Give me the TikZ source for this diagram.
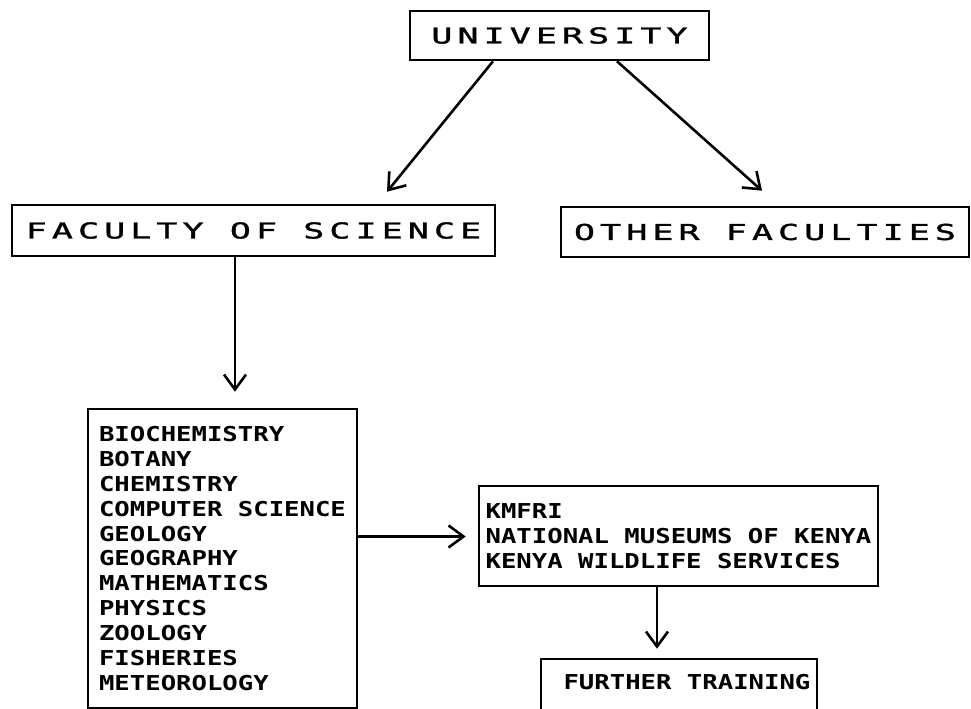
\documentclass[tikz,border=0pt]{standalone}
\usepackage{fontspec}
\usetikzlibrary{arrows.meta}
\newfontfamily\listfont{DejaVu Sans Mono}[FakeStretch=1.25]
\newfontfamily\titlefont{DejaVu Sans Mono}[FakeStretch=1.6,LetterSpace=23,FakeBold=1.5]
\newlength\pxu
\setlength\pxu{0.03cm}
\begin{document}
\begin{tikzpicture}[x=1\pxu,y=-1\pxu,
    box/.style={draw,line width=2.2pt,inner sep=0pt,align=left},
    title/.style={font=\titlefont\fontsize{18.7}{22}\selectfont},
    list/.style={font=\listfont\bfseries\fontsize{17.5}{21.3}\selectfont},
    arr/.style={line width=2.2pt,-{Straight Barb[length=4.5mm,width=6.6mm,line width=2.2pt]}}]
    \useasboundingbox (0,0) rectangle (971,709);
    % boxes
    \node[box,title,minimum width=299\pxu,minimum height=49\pxu] (uni) at (559.5,35.5) {UNIVERSITY};
    \node[box,title,minimum width=483\pxu,minimum height=51\pxu] (fac) at (253.5,230.5) {FACULTY OF SCIENCE};
    \node[box,title,minimum width=408\pxu,minimum height=50\pxu] (other) at (765,232) {OTHER FACULTIES};
    \node[box,list,minimum width=269\pxu,minimum height=299\pxu] (subj) at (222.5,558.5) {BIOCHEMISTRY\\BOTANY\\CHEMISTRY\\COMPUTER SCIENCE\\GEOLOGY\\GEOGRAPHY\\MATHEMATICS\\PHYSICS\\ZOOLOGY\\FISHERIES\\METEOROLOGY};
    \node[box,list,minimum width=399\pxu,minimum height=100\pxu] (inst) at (678.5,536) {KMFRI\\NATIONAL MUSEUMS OF KENYA\\KENYA WILDLIFE SERVICES};
    \node[box,minimum width=276\pxu,minimum height=53\pxu] (train) at (679,685.5) {};
    \node[list] (train_text) at (687,682) {FURTHER TRAINING};

    \draw[arr] ([xshift=-66.5\pxu]uni.south) -- ([xshift=133.5\pxu,yshift=12\pxu]fac.north);
    \draw[arr] ([xshift=57.5\pxu]uni.south) -- ([xshift=-3\pxu,yshift=15\pxu]other.north);
    \draw[arr] ([xshift=-18.5\pxu]fac.south) -- ([xshift=12.5\pxu,yshift=16\pxu]subj.north);
    \draw[arr] ([yshift=22\pxu]subj.east) -- ([xshift=-12\pxu,yshift=-0.5\pxu]inst.west);
    \draw[arr] ([xshift=-21.5\pxu]inst.south) -- ([xshift=-22\pxu,yshift=9\pxu]train.north);
\end{tikzpicture}
\end{document}
